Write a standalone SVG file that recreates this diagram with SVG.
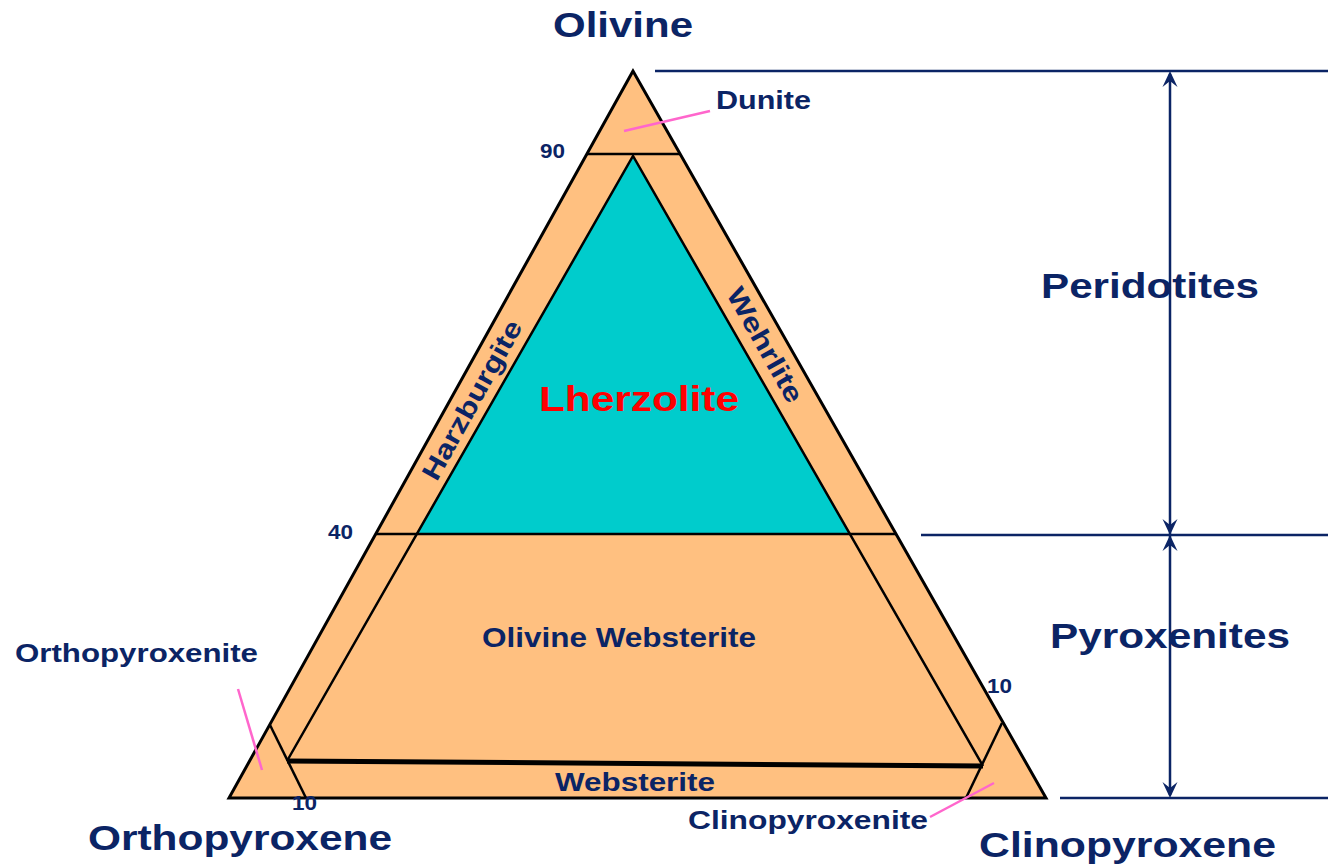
<svg xmlns="http://www.w3.org/2000/svg" width="1328" height="867" viewBox="0 0 1328 867">
<style>
.t{font-family:"Liberation Sans",Arial,sans-serif;font-weight:bold;fill:#0b2465}
.big{font-size:35px}
.mid{font-size:26.5px}
.num{font-size:20px}
.edge{fill:none;stroke:#000;stroke-width:3;stroke-linejoin:miter}
.ln{fill:none;stroke:#000;stroke-width:2.5}
.lead{fill:none;stroke:#ff66cc;stroke-width:2.5}
.nav{fill:none;stroke:#0b2465;stroke-width:2.5}
.ah{fill:#0b2465;stroke:none}
</style>
<rect width="1328" height="867" fill="#fff"/>
<g id="diagram">
  <polygon id="outer-triangle" points="633,71 229,798 1046,798" fill="#ffc080" stroke="none"/>
  <polygon id="lherzolite-field" points="633,156 416,534 850,534" fill="#00cccc"/>
  <line class="ln" x1="587" y1="154" x2="680" y2="154"/>
  <line class="ln" x1="376" y1="534" x2="896" y2="534"/>
  <polyline class="ln" points="287,761 633,156 983,766"/>
  <line x1="287" y1="761" x2="983" y2="766" stroke="#000" stroke-width="5"/>
  <line class="ln" x1="270" y1="725" x2="306" y2="798"/>
  <line class="ln" x1="1002" y1="723" x2="966" y2="798"/>
  <polygon class="edge" points="633,71 229,798 1046,798"/>
</g>
<g id="connectors">
  <line class="lead" x1="624" y1="131" x2="710" y2="111"/>
  <line class="lead" x1="238" y1="689" x2="262" y2="770"/>
  <line class="lead" x1="994" y1="783" x2="930" y2="817"/>
  <line class="nav" x1="655" y1="71" x2="1328" y2="71"/>
  <line class="nav" x1="921" y1="535" x2="1328" y2="535"/>
  <line class="nav" x1="1060" y1="798" x2="1328" y2="798"/>
  <line class="nav" x1="1170" y1="74" x2="1170" y2="795"/>
  <path class="ah" d="M1170,71 L1177.5,87 L1170,81 L1162.5,87 Z"/>
  <path class="ah" d="M1170,535 L1177.5,519 L1170,525 L1162.5,519 Z"/>
  <path class="ah" d="M1170,535 L1177.5,551 L1170,545 L1162.5,551 Z"/>
  <path class="ah" d="M1170,798 L1177.5,782 L1170,788 L1162.5,782 Z"/>
</g>
<g id="labels">
  <text class="t big" x="553" y="37" textLength="140" lengthAdjust="spacingAndGlyphs">Olivine</text>
  <text class="t mid" x="716" y="109" textLength="95" lengthAdjust="spacingAndGlyphs">Dunite</text>
  <text class="t num" x="540" y="158" textLength="25" lengthAdjust="spacingAndGlyphs">90</text>
  <text class="t num" x="328" y="539" textLength="25" lengthAdjust="spacingAndGlyphs">40</text>
  <text class="t num" x="987" y="693" textLength="25" lengthAdjust="spacingAndGlyphs">10</text>
  <text class="t num" x="292" y="810" textLength="25" lengthAdjust="spacingAndGlyphs">10</text>
  <text class="t big" x="1041" y="298" textLength="218" lengthAdjust="spacingAndGlyphs">Peridotites</text>
  <text class="t big" x="1050" y="648" textLength="240" lengthAdjust="spacingAndGlyphs">Pyroxenites</text>
  <text class="t big" x="539" y="411" textLength="200" lengthAdjust="spacingAndGlyphs" style="fill:#ff0000">Lherzolite</text>
  <text class="t mid" x="482" y="647" textLength="274" lengthAdjust="spacingAndGlyphs" style="font-size:27px">Olivine Websterite</text>
  <text class="t mid" x="15" y="662" textLength="243" lengthAdjust="spacingAndGlyphs">Orthopyroxenite</text>
  <text class="t mid" x="555" y="791" textLength="160" lengthAdjust="spacingAndGlyphs">Websterite</text>
  <text class="t mid" x="688" y="829" textLength="240" lengthAdjust="spacingAndGlyphs">Clinopyroxenite</text>
  <text class="t big" x="88" y="850" textLength="304" lengthAdjust="spacingAndGlyphs">Orthopyroxene</text>
  <text class="t big" x="979" y="857" textLength="297" lengthAdjust="spacingAndGlyphs">Clinopyroxene</text>
  <text class="t mid" transform="translate(472,400) rotate(-61)" x="0" y="9" text-anchor="middle" textLength="178" lengthAdjust="spacingAndGlyphs">Harzburgite</text>
  <text class="t mid" transform="translate(765,345) rotate(60.5)" x="0" y="9" text-anchor="middle" textLength="128" lengthAdjust="spacingAndGlyphs">Wehrlite</text>
</g>
</svg>
